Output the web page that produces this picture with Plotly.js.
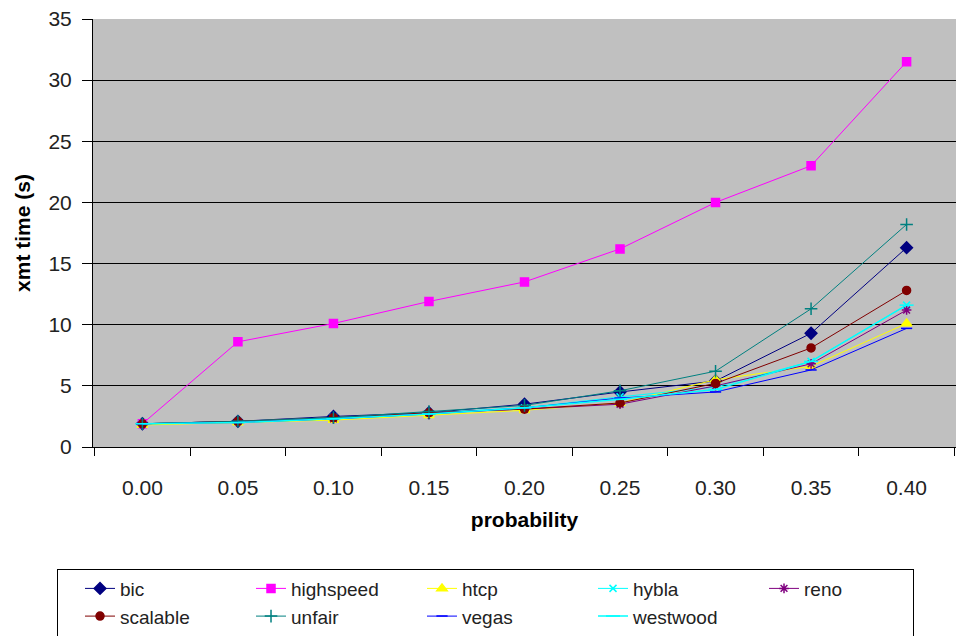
<!DOCTYPE html>
<html><head><meta charset="utf-8">
<script src="https://cdn.plot.ly/plotly-3.0.1.min.js"></script>
<style>html,body{margin:0;padding:0;background:#fff;}#chart{width:956px;height:636px;}</style>
</head><body><div id="chart"></div>
<script>
const categories = ["0.00","0.05","0.10","0.15","0.20","0.25","0.30","0.35","0.40"];
const bic       = [1.9, 2.1, 2.5, 2.8, 3.5, 4.5, 5.4, 9.3, 16.3];
const highspeed = [1.9, 8.6, 10.1, 11.9, 13.5, 16.2, 20.0, 23.0, 31.5];
const htcp      = [1.8, 2.0, 2.2, 2.6, 3.0, 3.6, 5.5, 6.6, 10.1];
const hybla     = [1.9, 2.1, 2.4, 2.8, 3.2, 4.1, 4.9, 7.0, 11.6];
const reno      = [1.9, 2.1, 2.3, 2.8, 3.1, 3.5, 5.0, 6.8, 11.2];
const scalable  = [1.9, 2.1, 2.4, 2.8, 3.1, 3.6, 5.2, 8.1, 12.8];
const unfair    = [1.9, 2.1, 2.4, 2.9, 3.4, 4.6, 6.2, 11.3, 18.2];
const vegas     = [1.9, 2.0, 2.3, 2.7, 3.2, 4.0, 4.5, 6.3, 9.7];
const westwood  = [1.9, 2.0, 2.3, 2.7, 3.2, 3.9, 4.7, 7.0, 11.6];

function tr(name, y, color, symbol, size, extra) {
  return Object.assign({
    type: "scatter", mode: "lines+markers", name: name, x: categories, y: y,
    line: {color: color, width: 1},
    marker: {symbol: symbol, size: size, color: color, line: {color: color, width: 1.5}}
  }, extra || {});
}
const traces = [
  tr("bic", bic, "#000080", "diamond", 9),
  tr("highspeed", highspeed, "#FF00FF", "square", 8),
  tr("htcp", htcp, "#FFFF00", "triangle-up", 9),
  tr("hybla", hybla, "#00FFFF", "x-thin-open", 7),
  tr("reno", reno, "#800080", "asterisk-open", 8),
  tr("scalable", scalable, "#800000", "circle", 8),
  tr("unfair", unfair, "#008080", "cross-thin-open", 9),
  tr("vegas", vegas, "#0000FF", "line-ew-open", 8),
  tr("westwood", westwood, "#00FFFF", "line-ew-open", 10, {line:{color:"#00FFFF", width:1.5}})
];

const layout = {
  width: 956, height: 636,
  margin: {l: 93, r: 0, t: 19, b: 189, autoexpand: false},
  paper_bgcolor: "#ffffff", plot_bgcolor: "#C0C0C0",
  font: {family: "Liberation Sans, Arial, sans-serif", size: 21, color: "#222"},
  showlegend: true,
  xaxis: {
    type: "category", tickson: "boundaries", ticks: "outside", ticklen: 8, tickcolor: "#000",
    showline: true, linecolor: "#000", linewidth: 1, showgrid: false, zeroline: false,
    ticklabelstandoff: 22,
    title: {text: "probability", font: {size: 21, color: "#000", weight: "bold"}, standoff: 14}
  },
  yaxis: {
    range: [0, 35], dtick: 5, ticks: "outside", ticklen: 10, tickcolor: "#000",
    showline: true, linecolor: "#000", linewidth: 1, ticklabelstandoff: 6,
    showgrid: true, gridcolor: "#000", gridwidth: 1, zeroline: false,
    title: {text: "xmt time (s)", font: {size: 21, color: "#000", weight: "bold"}, standoff: 12}
  },
  legend: {
    orientation: "h", x: -0.0417, y: -0.284, xanchor: "left", yanchor: "top",
    bgcolor: "#ffffff", bordercolor: "#000", borderwidth: 1,
    entrywidth: 104, entrywidthmode: "pixels", indentation: 22,
    font: {size: 19, color: "#222"}, traceorder: "normal"
  }
};
Plotly.newPlot("chart", traces, layout, {staticPlot: true, displayModeBar: false});
</script></body></html>
